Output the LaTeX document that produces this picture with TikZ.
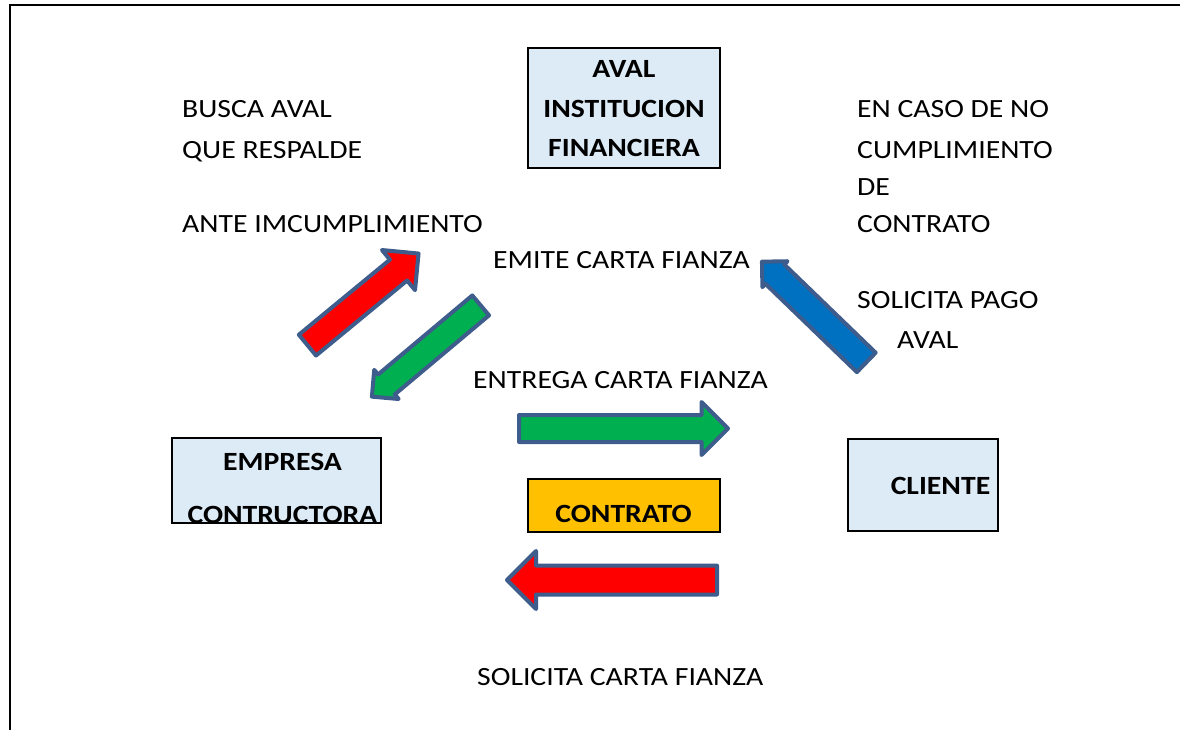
\documentclass[tikz,border=0pt]{standalone}
\usepackage{fontspec}
\setmainfont[FakeStretch=1.13]{Carlito}
\usetikzlibrary{shapes.arrows}
\definecolor{boxfill}{RGB}{221,235,247}
\definecolor{orangefill}{RGB}{255,192,0}
\definecolor{arrowedge}{RGB}{62,92,140}
\definecolor{greenfill}{RGB}{0,176,80}
\definecolor{bluefill}{RGB}{0,112,192}

\begin{document}
\begin{tikzpicture}[x=1pt,y=-1pt,
      every node/.style={font=\fontsize{26.3}{31}\selectfont, inner sep=0pt},
      entity/.style={draw, line width=2pt, fill=boxfill},
      title/.style={font=\fontsize{26.3}{31}\selectfont\bfseries, align=center},
      note/.style={anchor=base west},
      blockarrow/.style={single arrow, anchor=tail, draw=arrowedge, line width=4pt,
        line join=round, single arrow tip angle=90}]
      \useasboundingbox (0,0) rectangle (1180,730);
      % frame
      \draw[line width=2pt] (1180,5) -- (10,5) -- (10,730);

      % boxes
      \node[entity, minimum width=192, minimum height=120] (aval) at (624,108) {};
      \node[entity, minimum width=209, minimum height=85] (empresa) at (276.5,480.5) {};
      \node[entity, minimum width=150, minimum height=92] (cliente) at (923,485) {};
      \node[entity, fill=orangefill, minimum width=192, minimum height=53] (contrato) at (624,505.5) {};
      \node[title, font=\fontsize{26.3}{39.5}\selectfont\bfseries] (aval-t) at (624,109) {AVAL\\INSTITUCION\\FINANCIERA};
      \node[title, font=\fontsize{26.3}{52.5}\selectfont\bfseries] (empresa-t) at (282.5,488.5) {EMPRESA\\CONTRUCTORA};
      \node[title] (cliente-t) at (940.5,486) {CLIENTE};
      \node[title] (contrato-t) at (623.5,514) {CONTRATO};

      % block arrows
      \node[blockarrow, fill=red, minimum height=144, inner ysep=11.5, single arrow head extend=12.5, rotate=39.5] (busca) at (305.9,346.4) {};
      \node[blockarrow, fill=greenfill, minimum height=142, inner ysep=11, single arrow head extend=6, rotate=220] (emite) at (482.2,304.1) {};
      \node[blockarrow, fill=bluefill, minimum height=145, inner ysep=11.5, single arrow head extend=4.5, rotate=136] (pago) at (867.7,363.8) {};
      \node[blockarrow, fill=greenfill, minimum height=209, inner ysep=11.5, single arrow head extend=13] (entrega) at (517,428.5) {};
      \node[blockarrow, fill=red, minimum height=210, inner ysep=12.5, single arrow head extend=14.5, rotate=180] (solicita) at (719,580) {};

      % notes
      \foreach \name/\y/\txt in {n1/118/BUSCA AVAL, n2/159/QUE RESPALDE, n3/232/ANTE IMCUMPLIMIENTO}
        \node[note] (\name) at (182,\y) {\txt};
      \foreach \name/\y/\txt in {m1/118/EN CASO DE NO, m2/159/CUMPLIMIENTO, m3/196/DE, m4/232/CONTRATO, m5/308/SOLICITA PAGO}
        \node[note] (\name) at (857,\y) {\txt};
      \node[note] (m6) at (897,348) {AVAL};
      \node[note] (emite-t) at (493,268) {EMITE CARTA FIANZA};
      \node[note] (entrega-t) at (473,388) {ENTREGA CARTA FIANZA};
      \node[note] (solicita-t) at (477,685) {SOLICITA CARTA FIANZA};
    \end{tikzpicture}
\end{document}
